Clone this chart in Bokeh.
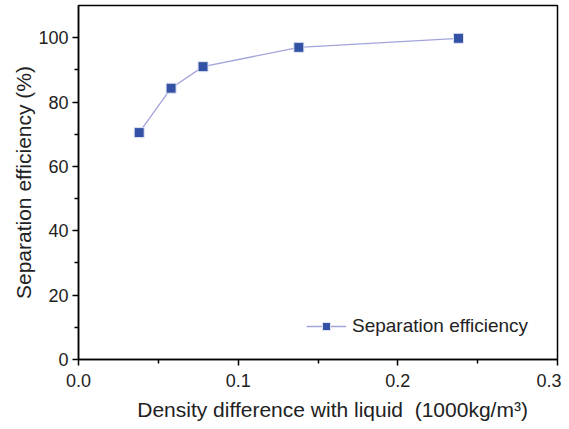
from bokeh.plotting import figure
from bokeh.embed import file_html
from bokeh.resources import INLINE
from bokeh.models import Range1d, FixedTicker, Legend, LegendItem, CustomJSTickFormatter

density_diff = [0.038, 0.058, 0.078, 0.138, 0.238]
efficiency = [70.5, 84.3, 91.0, 97.0, 99.8]
x_ticks = [0.0, 0.1, 0.2, 0.3]
x_minor = [0.05, 0.15, 0.25]
y_ticks = [0, 20, 40, 60, 80, 100]
y_minor = [10, 30, 50, 70, 90]

FONT = "Liberation Sans"

p = figure(frame_width=479, frame_height=354, output_backend="svg", toolbar_location=None,
           x_range=Range1d(0, 0.3), y_range=Range1d(0, 110),
           min_border_left=78, min_border_right=4, min_border_top=5, min_border_bottom=60)

line = p.line(density_diff, efficiency, line_color="#a3a3dc", line_width=1.3)
pts = p.scatter(density_diff, efficiency, marker="square", size=10,
                fill_color="#3352a6", line_color="#e0e4f2", line_width=1)

p.grid.visible = False
p.outline_line_color = "black"
p.outline_line_width = 1.5
p.background_fill_color = "white"
p.border_fill_color = "white"

p.xaxis.ticker = FixedTicker(ticks=x_ticks, minor_ticks=x_minor)
p.yaxis.ticker = FixedTicker(ticks=y_ticks, minor_ticks=y_minor)
p.xaxis.formatter = CustomJSTickFormatter(code="return tick.toFixed(1);")

for ax in (p.xaxis[0], p.yaxis[0]):
    ax.axis_line_width = 1.5
    ax.axis_line_color = "black"
    ax.major_tick_line_width = 1.5
    ax.minor_tick_line_width = 1.5
    ax.major_tick_out = 6
    ax.major_tick_in = 0
    ax.minor_tick_out = 4
    ax.minor_tick_in = 0
    ax.major_label_text_font = FONT
    ax.major_label_text_font_size = "18px"
    ax.major_label_text_color = "#222222"
    ax.axis_label_text_font = FONT
    ax.axis_label_text_font_size = "21px"
    ax.axis_label_text_font_style = "normal"
    ax.axis_label_text_color = "#222222"

p.xaxis.axis_label = "\u00a0\u00a0\u00a0\u00a0\u00a0Density difference with liquid \u00a0(1000kg/m\u00b3)"
p.yaxis.axis_label = "Separation efficiency (%)"
p.xaxis.major_label_standoff = 8
p.yaxis.major_label_standoff = 4
p.xaxis.axis_label_standoff = 8
p.yaxis.axis_label_standoff = 0

legend = Legend(items=[LegendItem(label="Separation efficiency", renderers=[line, pts])],
                location=(228, 22), border_line_color=None, background_fill_alpha=0,
                label_text_font=FONT, label_text_font_size="19px", label_text_color="#222222",
                glyph_width=40, label_standoff=6)
p.add_layout(legend, "center")

open("out.html", "w").write(file_html(p, INLINE))
